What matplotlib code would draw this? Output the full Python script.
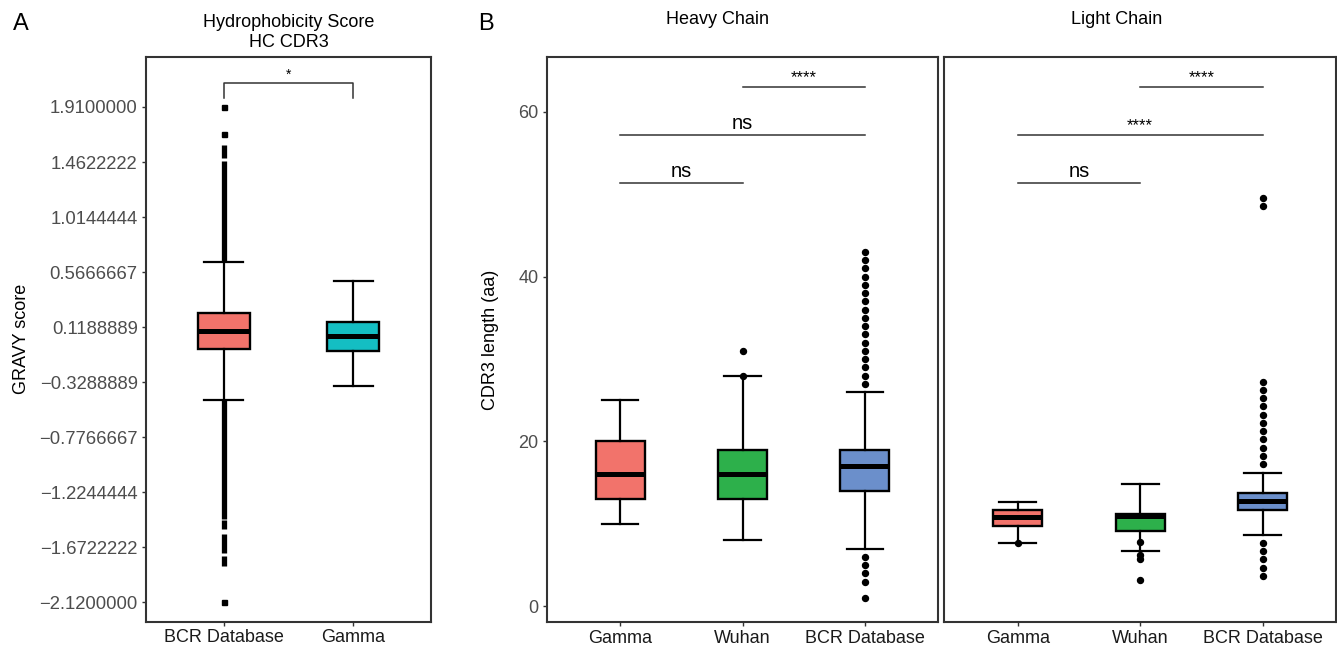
import matplotlib
matplotlib.use('Agg')
import matplotlib.pyplot as plt

plt.rcParams['font.family'] = ['Liberation Sans', 'DejaVu Sans']

# ---------------- Panel A data: GRAVY score, HC CDR3 ----------------
a_groups = ['BCR Database', 'Gamma']
a_whislo = [-0.475, -0.359]
a_q1 = [-0.060, -0.076]
a_med = [0.089, 0.048]
a_q3 = [0.233, 0.162]
a_whishi = [0.646, 0.496]
a_fliers_bcr = [1.91, 1.688, -2.118]
a_fliers_gamma = []
# dense (overlapping) outlier runs for BCR Database: (low, high)
a_dense_low = [0.646, 1.492, -1.4385, -1.520, -1.715, -1.824]
a_dense_high = [1.473, 1.601, -0.475, -1.452, -1.561, -1.743]
a_colors = ['#F2736B', '#14BEC3']
a_yticks = [1.9100000, 1.4622222, 1.0144444, 0.5666667, 0.1188889,
            -0.3288889, -0.7766667, -1.2244444, -1.6722222, -2.1200000]
a_sig_label = '*'
a_sig_y = 2.108
a_sig_tip = 1.986

# ---------------- Panel B data: CDR3 length ----------------
b_groups = ['Gamma', 'Wuhan', 'BCR Database']
b_colors = ['#F2736B', '#2DB04B', '#6B8FCB']

h_whislo = [10, 8, 7]
h_q1 = [13, 13, 14]
h_med = [16, 16, 17]
h_q3 = [20, 19, 19]
h_whishi = [25, 28, 26]
h_fliers_gamma = []
h_fliers_wuhan = [31, 28]
h_fliers_bcr = [27, 28, 29, 30, 31, 32, 33, 34, 35, 36, 37, 38, 39, 40, 41, 42, 43,
                6, 5, 4, 3, 1]

l_whislo = [7.7, 6.7, 8.7]
l_q1 = [9.7, 9.1, 11.7]
l_med = [10.8, 10.9, 12.8]
l_q3 = [11.7, 11.2, 13.8]
l_whishi = [12.7, 14.8, 16.2]
l_fliers_gamma = [7.7]
l_fliers_wuhan = [7.74, 6.25, 5.72, 3.13]
l_fliers_bcr = [17.25, 18.25, 19.25, 20.25, 21.25, 22.25, 23.25, 24.25, 25.25,
                26.25, 27.25, 48.6, 49.6, 7.7, 6.7, 5.7, 4.7, 3.7]

b_yticks = [0, 20, 40, 60]

# significance comparisons: (label, group_i, group_j, y)
h_sig = [('****', 2, 3, 63.0), ('ns', 1, 3, 57.2), ('ns', 1, 2, 51.4)]
l_sig = [('****', 2, 3, 63.0), ('****', 1, 3, 57.2), ('ns', 1, 2, 51.4)]

# ---------------- styling helpers ----------------
SPINE = '#333333'
TICKLAB = '#4D4D4D'


def make_stats(groups, whislo, q1, med, q3, whishi, fliers):
    out = []
    for i, g in enumerate(groups):
        out.append(dict(label=g, whislo=whislo[i], q1=q1[i], med=med[i],
                        q3=q3[i], whishi=whishi[i], fliers=fliers[i]))
    return out


def draw_box(ax, stats, colors, marker):
    bp = ax.bxp(stats, positions=range(1, len(stats) + 1), widths=0.4,
                capwidths=0.3, patch_artist=True, showfliers=True,
                boxprops=dict(linewidth=1.7, edgecolor='black'),
                medianprops=dict(color='black', linewidth=3.6,
                                 solid_capstyle='butt'),
                whiskerprops=dict(linewidth=1.6, color='black'),
                capprops=dict(linewidth=1.6, color='black'),
                flierprops=dict(marker=marker, markerfacecolor='black',
                                markeredgecolor='black',
                                markersize=4.3 if marker == 'o' else 3.6,
                                linestyle='none'))
    for p, c in zip(bp['boxes'], colors):
        p.set_facecolor(c)
    return bp


def style_axes(ax, ysize):
    for s in ax.spines.values():
        s.set_color(SPINE)
        s.set_linewidth(1.5)
    ax.tick_params(axis='both', length=3, width=1, color=SPINE)
    ax.tick_params(axis='y', labelsize=ysize, labelcolor=TICKLAB, pad=3)
    ax.tick_params(axis='x', labelsize=13, labelcolor='#1A1A1A', pad=2.5)


W, H = 1337, 652
fig = plt.figure(figsize=(W / 100, H / 100), dpi=100)


def px_axes(l, t, r, b):
    return fig.add_axes([l / W, 1 - b / H, (r - l) / W, (b - t) / H])


# ---------------- Panel A ----------------
axA = px_axes(146, 56.7, 431, 621.5)
statsA = make_stats(a_groups, a_whislo, a_q1, a_med, a_q3, a_whishi,
                    [a_fliers_bcr, a_fliers_gamma])
axA.vlines([1] * len(a_dense_low), a_dense_low, a_dense_high, color='black',
           linewidth=3.8, capstyle='butt', zorder=1)
draw_box(axA, statsA, a_colors, 's')
axA.set_xlim(0.4, 2.6)
axA.set_ylim(-2.2747, 2.319)
axA.set_yticks(a_yticks)
axA.set_yticklabels([f'{v:.7f}'.replace('-', '\u2212') for v in a_yticks])
axA.set_xticks([1, 2])
axA.set_xticklabels(a_groups)
style_axes(axA, 13.3)
axA.set_ylabel('GRAVY score', fontsize=13, labelpad=6.5)
axA.plot([1, 1, 2, 2], [a_sig_tip, a_sig_y, a_sig_y, a_sig_tip], color='#333333',
         linewidth=1.1)
axA.annotate(a_sig_label, xy=(1.5, a_sig_y), xytext=(0, 0.5),
             textcoords='offset points', ha='center', va='bottom', fontsize=10)
axA.set_title('Hydrophobicity Score\nHC CDR3', fontsize=13, pad=7)

# ---------------- Panel B ----------------
axH = px_axes(546.7, 56.7, 938.3, 622.3)
statsH = make_stats(b_groups, h_whislo, h_q1, h_med, h_q3, h_whishi,
                    [h_fliers_gamma, h_fliers_wuhan, h_fliers_bcr])
draw_box(axH, statsH, b_colors, 'o')

axL = px_axes(944.3, 56.7, 1336, 622.3)
statsL = make_stats(b_groups, l_whislo, l_q1, l_med, l_q3, l_whishi,
                    [l_fliers_gamma, l_fliers_wuhan, l_fliers_bcr])
draw_box(axL, statsL, b_colors, 'o')

for ax, sigs in ((axH, h_sig), (axL, l_sig)):
    ax.set_xlim(0.4, 3.6)
    ax.set_ylim(-1.95, 66.7)
    ax.set_xticks([1, 2, 3])
    ax.set_xticklabels(b_groups)
    ax.set_yticks(b_yticks)
    style_axes(ax, 13)
    for lab, i, j, y in sigs:
        ax.plot([i, j], [y, y], color='#333333', linewidth=1.1)
        fs = 12 if lab.startswith('*') else 14.5
        ax.annotate(lab, xy=((i + j) / 2, y), xytext=(0, 1.5),
                    textcoords='offset points', ha='center', va='bottom',
                    fontsize=fs)

axH.set_ylabel('CDR3 length (aa)', fontsize=13, labelpad=14)
axL.tick_params(axis='y', left=False, labelleft=False)

fig.text(717 / W, 1 - 19 / H, 'Heavy Chain', ha='center', va='center', fontsize=13)
fig.text(1117 / W, 1 - 19 / H, 'Light Chain', ha='center', va='center', fontsize=13)

fig.text(21 / W, 1 - 23.5 / H, 'A', ha='center', va='center', fontsize=17)
fig.text(486 / W, 1 - 23.5 / H, 'B', ha='center', va='center', fontsize=17)

fig.savefig('out.png', dpi=100, facecolor='white')
